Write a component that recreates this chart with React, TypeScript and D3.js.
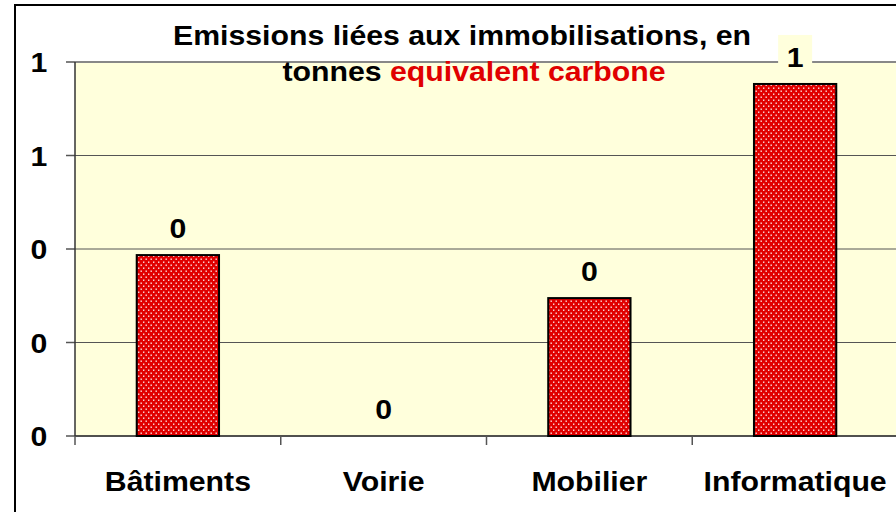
import React from "react";
import * as d3 from "d3";

const categories = ["Bâtiments", "Voirie", "Mobilier", "Informatique"];
const values = [0.387, 0, 0.295, 0.753];
const yTicks = [0, 0.2, 0.4, 0.6, 0.8];

const W = 896;
const H = 512;
const font = "Arial, 'Liberation Sans', sans-serif";
const FS = 27.5;
const SX = 1.1;

function Txt({ x, y, children, fill = "#000", anchor = "middle" }: any) {
  return (
    <text transform={`translate(${x},${y}) scale(${SX},1)`} textAnchor={anchor} fontSize={FS} fontWeight="bold" fill={fill}>
      {children}
    </text>
  );
}

export default function App() {
  const left = 75, right = 898, top = 62, bottom = 436;
  const x = d3.scaleBand<string>().domain(categories).range([left, right]).paddingInner(0.6).paddingOuter(0.3);
  const y = d3.scaleLinear().domain([0, 0.8]).range([bottom, top]);
  const step = x.step();
  const fmt = (v: number) => String(Math.round(v));
  const maxV = d3.max(values)!;
  return (
    <svg width={W} height={H} style={{ position: "absolute", left: 0, top: 0, display: "block" }} fontFamily={font}>
      <defs>
        <pattern id="dots" width={5} height={6} patternUnits="userSpaceOnUse">
          <rect width={5} height={6} fill="#E00000" />
          <rect x={0.5} y={0.5} width={1.4} height={1.4} fill="#FFFFFF" opacity={0.9} />
          <rect x={3} y={3.5} width={1.4} height={1.4} fill="#FFFFFF" opacity={0.9} />
        </pattern>
      </defs>
      <rect x={0} y={0} width={W} height={H} fill="#fff" />
      {/* outer border */}
      <rect x={15} y={5} width={W + 20} height={H + 20} fill="none" stroke="#000" strokeWidth={2} />
      {/* plot area */}
      <rect x={left} y={top} width={right - left} height={bottom - top} fill="#FFFFDC" />
      {yTicks.map((t, i) => (
        <g key={i}>
          <line x1={left} x2={right} y1={y(t)} y2={y(t)} stroke={i === yTicks.length - 1 ? "#888" : "#555"} strokeWidth={i === yTicks.length - 1 ? 2 : 1} />
          <line x1={66} x2={left} y1={y(t)} y2={y(t)} stroke="#555" strokeWidth={1.5} />
          <Txt x={39} y={y(t) + 10}>{fmt(t)}</Txt>
        </g>
      ))}
      <line x1={left} x2={left} y1={top} y2={bottom} stroke="#333" strokeWidth={1.5} />
      <line x1={left} x2={right} y1={bottom} y2={bottom} stroke="#333" strokeWidth={1.5} />
      {categories.map((c, i) => (
        <line key={"t" + i} x1={left + i * step} x2={left + i * step} y1={bottom} y2={445} stroke="#555" strokeWidth={1.5} />
      ))}
      {/* bars */}
      {categories.map((c, i) => values[i] > 0 ? (
        <rect key={"b" + i} x={x(c)!} y={y(values[i])} width={x.bandwidth()} height={bottom - y(values[i])} fill="url(#dots)" stroke="#000" strokeWidth={2} />
      ) : null)}
      {/* value labels */}
      {categories.map((c, i) => {
        const cx = x(c)! + x.bandwidth() / 2;
        const base = y(values[i]) - 17;
        const isMax = values[i] === maxV;
        return (
          <g key={"l" + i}>
            {isMax && <rect x={cx - 17} y={base - 32} width={34} height={32} fill="#FFFFDC" />}
            <Txt x={cx} y={base}>{fmt(values[i])}</Txt>
          </g>
        );
      })}
      {/* category labels */}
      {categories.map((c) => (
        <Txt key={"c" + c} x={x(c)! + x.bandwidth() / 2} y={491}>{c}</Txt>
      ))}
      {/* title */}
      <Txt x={462} y={45}>Emissions liées aux immobilisations, en</Txt>
      <Txt x={474} y={81}>
        <tspan fill="#000">tonnes </tspan>
        <tspan fill="#E00000">equivalent carbone</tspan>
      </Txt>
    </svg>
  );
}
